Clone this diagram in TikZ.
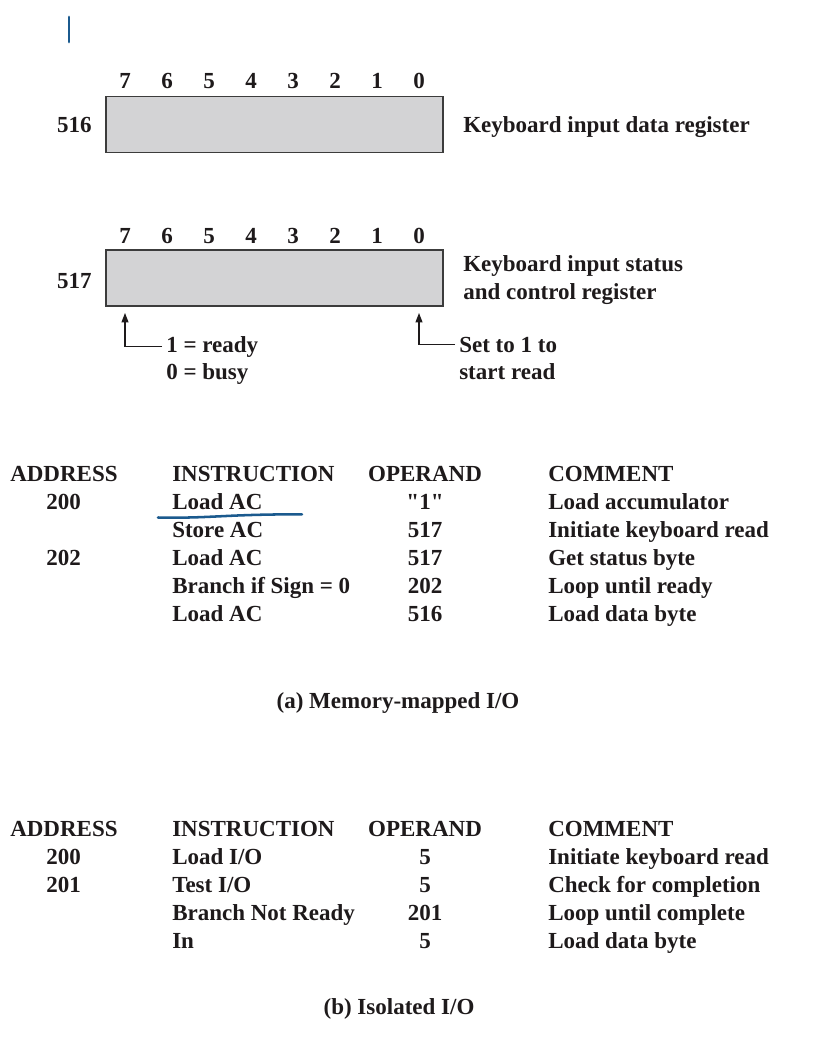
\documentclass[tikz,border=0pt]{standalone}
\usepackage{fontspec}
\setmainfont{Liberation Serif}
% same family without TeX ligature mapping, for straight quotes
\newfontfamily\straightserif[Ligatures=Common]{Liberation Serif}
\usetikzlibrary{arrows.meta}
\definecolor{regfill}{HTML}{D3D3D5}
\definecolor{regline}{HTML}{3C3C3C}
\definecolor{inktext}{HTML}{1E1A1B}
\definecolor{pen}{HTML}{1B5A8E}
\begin{document}
\begin{tikzpicture}[x=0.75pt,y=-0.75pt,
  txt/.style={font=\bfseries\fontsize{17.25}{20}\selectfont, inner sep=0pt, text=inktext},
  lbl/.style={txt, anchor=base west},
  ctr/.style={txt, anchor=base},
  rgt/.style={txt, anchor=base east},
  reg/.style={draw=regline, fill=regfill, line width=1pt, minimum width=252.75pt,
              minimum height=42pt, inner sep=0pt},
  arr/.style={draw=inktext, line width=0.8pt, -{Triangle[length=7pt,width=5.2pt]}},
  ink/.style={draw=pen, line width=2.2pt, line cap=round}]
\useasboundingbox[fill=white] (0,0) rectangle (816,1045);

% pen mark
\draw[ink] (69,17) -- (69,42);

% ---- keyboard input data register
\foreach \b in {0,...,7} \node[ctr] (p\b) at ({419-42*\b},89) {\b};
\node[reg] (r516) at (274.5,124.5) {};
\node[rgt] (n516) at (92,133) {516};
\node[lbl] (d516) at (463,133) {Keyboard input data register};

% ---- keyboard input status and control register
\foreach \b in {0,...,7} \node[ctr] (q\b) at ({419-42*\b},243) {\b};
\node[reg] (r517) at (274.5,278) {};
\node[rgt] (n517) at (92,288) {517};
\node[lbl] (d517a) at (463,271) {Keyboard input status};
\node[lbl] (d517b) at (463,299) {and control register};

\coordinate (t7) at (125,313);
\coordinate (t0) at (419,313);
\node[lbl] (ready) at (166,352) {1 = ready};
\node[lbl] (busy)  at (166,379) {0 = busy};
\node[lbl] (setA)  at (459,352) {Set to 1 to};
\node[lbl] (setB)  at (459,379) {start read};
\draw[arr] ([xshift=-3pt]ready.west) -| (t7);
\draw[arr] ([xshift=-3pt]setA.west) -| (t0);

% ---- (a) memory-mapped I/O program
\node[lbl] (ha1) at (10,481)  {ADDRESS};
\node[lbl] (ha2) at (172,481) {INSTRUCTION};
\node[ctr] (ha3) at (425,481) {OPERAND};
\node[lbl] (ha4) at (548,481) {COMMENT};

\node[ctr] (aa1) at (63.5,509) {200};
\node[lbl] (ai1) at (172,509) {Load AC};
\node[ctr] (ao1) at (425,509) {\straightserif\bfseries "1"};
\node[lbl] (ac1) at (548,509) {Load accumulator};

\node[lbl] (ai2) at (172,537) {Store AC};
\node[ctr] (ao2) at (425,537) {517};
\node[lbl] (ac2) at (548,537) {Initiate keyboard read};

\node[ctr] (aa3) at (63.5,565) {202};
\node[lbl] (ai3) at (172,565) {Load AC};
\node[ctr] (ao3) at (425,565) {517};
\node[lbl] (ac3) at (548,565) {Get status byte};

\node[lbl] (ai4) at (172,593) {Branch if Sign = 0};
\node[ctr] (ao4) at (425,593) {202};
\node[lbl] (ac4) at (548,593) {Loop until ready};

\node[lbl] (ai5) at (172,621) {Load AC};
\node[ctr] (ao5) at (425,621) {516};
\node[lbl] (ac5) at (548,621) {Load data byte};

\draw[ink, line width=1.9pt] (158,517.5) .. controls (212,518.5) and (222,514.3) .. (302,514.3);

\node[ctr] (capa) at (398,708) {(a) Memory-mapped I/O};

% ---- (b) isolated I/O program
\node[lbl] (hb1) at (10,836)  {ADDRESS};
\node[lbl] (hb2) at (172,836) {INSTRUCTION};
\node[ctr] (hb3) at (425,836) {OPERAND};
\node[lbl] (hb4) at (548,836) {COMMENT};

\node[ctr] (ba1) at (63.5,864) {200};
\node[lbl] (bi1) at (172,864) {Load I/O};
\node[ctr] (bo1) at (425,864) {5};
\node[lbl] (bc1) at (548,864) {Initiate keyboard read};

\node[ctr] (ba2) at (63.5,892) {201};
\node[lbl] (bi2) at (172,892) {Test I/O};
\node[ctr] (bo2) at (425,892) {5};
\node[lbl] (bc2) at (548,892) {Check for completion};

\node[lbl] (bi3) at (172,920) {Branch Not Ready};
\node[ctr] (bo3) at (425,920) {201};
\node[lbl] (bc3) at (548,920) {Loop until complete};

\node[lbl] (bi4) at (172,948) {In};
\node[ctr] (bo4) at (425,948) {5};
\node[lbl] (bc4) at (548,948) {Load data byte};

\node[ctr] (capb) at (399,1014) {(b) Isolated I/O};
\end{tikzpicture}
\end{document}
